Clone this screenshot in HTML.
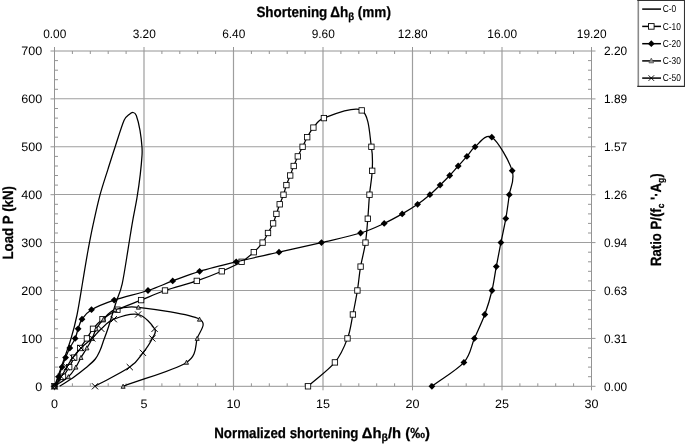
<!DOCTYPE html>
<html><head><meta charset="utf-8">
<style>html,body{margin:0;padding:0;background:#fff}body{width:685px;height:445px;overflow:hidden}svg{display:block}text{font-family:"Liberation Sans",sans-serif;fill:#000;text-rendering:geometricPrecision}</style></head><body>
<svg width="685" height="445" viewBox="0 0 685 445">
<rect width="685" height="445" fill="#fff"/>
<path d="M54.5 338.43H591.5M54.5 290.48H591.5M54.5 242.53H591.5M54.5 194.58H591.5M54.5 146.83H591.5M54.5 98.68H591.5" stroke="#9e9e9e" stroke-width="1.05" fill="none"/>
<path d="M144.0 51.0V386.3M233.5 51.0V386.3M323.0 51.0V386.3M412.5 51.0V386.3M502.0 51.0V386.3" stroke="#9e9e9e" stroke-width="1.2" fill="none"/>
<path d="M54.5 51.0H591.5V386.3H54.5ZM50.5 386.3H54.5M591.5 386.3H595.5M50.5 338.4H54.5M591.5 338.4H595.5M50.5 290.5H54.5M591.5 290.5H595.5M50.5 242.6H54.5M591.5 242.6H595.5M50.5 194.7H54.5M591.5 194.7H595.5M50.5 146.8H54.5M591.5 146.8H595.5M50.5 98.9H54.5M591.5 98.9H595.5M50.5 51.0H54.5M591.5 51.0H595.5M54.5 376.7H58.0M588.0 376.7H591.5M54.5 367.1H58.0M588.0 367.1H591.5M54.5 357.6H58.0M588.0 357.6H591.5M54.5 348.0H58.0M588.0 348.0H591.5M54.5 328.8H58.0M588.0 328.8H591.5M54.5 319.2H58.0M588.0 319.2H591.5M54.5 309.7H58.0M588.0 309.7H591.5M54.5 300.1H58.0M588.0 300.1H591.5M54.5 280.9H58.0M588.0 280.9H591.5M54.5 271.3H58.0M588.0 271.3H591.5M54.5 261.8H58.0M588.0 261.8H591.5M54.5 252.2H58.0M588.0 252.2H591.5M54.5 233.0H58.0M588.0 233.0H591.5M54.5 223.4H58.0M588.0 223.4H591.5M54.5 213.9H58.0M588.0 213.9H591.5M54.5 204.3H58.0M588.0 204.3H591.5M54.5 185.1H58.0M588.0 185.1H591.5M54.5 175.5H58.0M588.0 175.5H591.5M54.5 166.0H58.0M588.0 166.0H591.5M54.5 156.4H58.0M588.0 156.4H591.5M54.5 137.2H58.0M588.0 137.2H591.5M54.5 127.6H58.0M588.0 127.6H591.5M54.5 118.1H58.0M588.0 118.1H591.5M54.5 108.5H58.0M588.0 108.5H591.5M54.5 89.3H58.0M588.0 89.3H591.5M54.5 79.7H58.0M588.0 79.7H591.5M54.5 70.2H58.0M588.0 70.2H591.5M54.5 60.6H58.0M588.0 60.6H591.5M54.5 47.0V51.0M54.5 386.3V390.3M72.4 51.0V54.0M72.4 383.3V386.3M90.3 51.0V54.0M90.3 383.3V386.3M108.2 51.0V54.0M108.2 383.3V386.3M126.1 51.0V54.0M126.1 383.3V386.3M144.0 47.0V51.0M144.0 386.3V390.3M161.9 51.0V54.0M161.9 383.3V386.3M179.8 51.0V54.0M179.8 383.3V386.3M197.7 51.0V54.0M197.7 383.3V386.3M215.6 51.0V54.0M215.6 383.3V386.3M233.5 47.0V51.0M233.5 386.3V390.3M251.4 51.0V54.0M251.4 383.3V386.3M269.3 51.0V54.0M269.3 383.3V386.3M287.2 51.0V54.0M287.2 383.3V386.3M305.1 51.0V54.0M305.1 383.3V386.3M323.0 47.0V51.0M323.0 386.3V390.3M340.9 51.0V54.0M340.9 383.3V386.3M358.8 51.0V54.0M358.8 383.3V386.3M376.7 51.0V54.0M376.7 383.3V386.3M394.6 51.0V54.0M394.6 383.3V386.3M412.5 47.0V51.0M412.5 386.3V390.3M430.4 51.0V54.0M430.4 383.3V386.3M448.3 51.0V54.0M448.3 383.3V386.3M466.2 51.0V54.0M466.2 383.3V386.3M484.1 51.0V54.0M484.1 383.3V386.3M502.0 47.0V51.0M502.0 386.3V390.3M519.9 51.0V54.0M519.9 383.3V386.3M537.8 51.0V54.0M537.8 383.3V386.3M555.7 51.0V54.0M555.7 383.3V386.3M573.6 51.0V54.0M573.6 383.3V386.3M591.5 47.0V51.0M591.5 386.3V390.3" stroke="#949494" stroke-width="1" fill="none"/>
<path d="M54.5 386.3C57.0 379.2 59.3 372.9 62.0 365.0C64.7 357.1 68.4 347.3 70.9 339.0C73.4 330.7 75.1 324.3 77.0 315.0C78.9 305.7 80.7 293.8 82.5 283.0C84.3 272.2 86.3 259.7 88.1 250.0C89.9 240.3 91.1 233.8 93.1 224.7C95.1 215.6 97.4 204.7 99.9 195.4C102.4 186.1 105.5 177.1 108.0 169.1C110.5 161.1 112.3 155.3 115.0 147.2C117.7 139.0 121.7 125.7 124.1 120.2C125.6 116.7 127.7 115.8 129.2 114.5C130.7 113.2 132.0 112.3 133.2 112.5C134.4 112.7 135.5 113.5 136.3 115.5C137.4 118.5 139.1 125.0 140.0 130.3C140.9 135.6 141.7 143.0 142.0 147.2C142.3 151.4 142.3 151.4 142.0 155.6C141.7 160.1 141.1 167.1 140.3 174.1C139.5 181.1 138.3 189.8 137.0 197.7C135.7 205.6 134.1 212.9 132.6 221.3C131.1 229.7 129.9 237.9 128.2 248.3C126.5 258.7 124.1 275.1 122.2 283.8C120.3 292.5 118.1 295.9 116.6 300.7C115.0 305.5 114.4 307.7 112.9 312.5C111.4 317.3 109.3 324.6 107.7 329.3C106.1 334.1 104.7 337.6 103.4 341.0C102.2 344.4 101.6 347.0 100.2 350.0C98.8 353.0 97.7 356.0 95.3 359.0C92.9 362.0 89.1 365.0 85.6 368.0C82.0 371.0 78.3 373.9 74.0 377.0C69.7 380.1 64.4 383.2 59.6 386.3" stroke="#000" stroke-width="1.25" fill="none" stroke-linejoin="round"/>
<path d="M54.5 386.3C57.3 383.1 60.5 379.9 63.0 376.7C65.5 373.5 67.3 370.3 69.2 367.1C71.1 363.9 72.4 360.8 74.2 357.6C76.0 354.4 78.1 351.2 80.2 348.0C82.3 344.8 84.8 341.6 86.9 338.4C89.0 335.2 90.4 332.0 93.0 328.8C95.6 325.6 98.4 322.4 102.5 319.2C106.6 316.0 111.0 312.9 117.4 309.7C123.8 306.5 133.2 303.3 141.1 300.1C149.0 296.9 155.7 293.7 165.0 290.5C174.3 287.3 187.3 284.1 196.8 280.9C206.3 277.7 214.3 274.5 221.8 271.3C229.3 268.1 236.3 265.0 241.6 261.8C246.9 258.6 250.3 255.4 253.8 252.2C257.3 249.0 260.2 245.8 262.6 242.6C265.0 239.4 266.2 236.2 268.0 233.0C269.8 229.8 271.7 226.6 273.1 223.4C274.5 220.2 275.3 217.1 276.4 213.9C277.5 210.7 278.5 207.5 279.7 204.3C280.9 201.1 282.4 197.9 283.5 194.7C284.6 191.5 285.3 188.3 286.4 185.1C287.5 181.9 289.0 178.7 290.2 175.5C291.4 172.3 292.4 169.2 293.7 166.0C295.0 162.8 296.3 159.6 297.8 156.4C299.3 153.2 301.0 150.0 302.6 146.8C304.2 143.6 305.4 140.4 307.2 137.2C309.0 134.0 310.6 130.8 313.4 127.6C316.2 124.4 317.2 120.4 323.9 118.1C331.9 115.2 353.8 105.6 361.7 110.4C369.6 115.2 369.6 136.7 371.4 146.8C373.1 156.9 372.5 162.8 372.2 170.8C371.9 178.7 370.2 186.7 369.5 194.7C368.8 202.7 368.5 210.7 367.8 218.7C367.1 226.6 366.7 234.6 365.5 242.6C364.3 250.6 362.0 258.6 360.6 266.6C359.2 274.5 358.7 282.5 357.4 290.5C356.1 298.5 354.5 306.5 352.9 314.5C351.2 322.4 350.5 330.4 347.5 338.4C344.5 346.4 341.5 354.4 334.9 362.4C328.3 370.3 317.0 378.3 308.0 386.3" stroke="#000" stroke-width="1.25" fill="none" stroke-linejoin="round"/>
<rect x="51.8" y="383.6" width="5.4" height="5.4" fill="#fff" stroke="#000" stroke-width="0.85"/>
<rect x="60.3" y="374.0" width="5.4" height="5.4" fill="#fff" stroke="#000" stroke-width="0.85"/>
<rect x="66.5" y="364.4" width="5.4" height="5.4" fill="#fff" stroke="#000" stroke-width="0.85"/>
<rect x="71.5" y="354.9" width="5.4" height="5.4" fill="#fff" stroke="#000" stroke-width="0.85"/>
<rect x="77.5" y="345.3" width="5.4" height="5.4" fill="#fff" stroke="#000" stroke-width="0.85"/>
<rect x="84.2" y="335.7" width="5.4" height="5.4" fill="#fff" stroke="#000" stroke-width="0.85"/>
<rect x="90.3" y="326.1" width="5.4" height="5.4" fill="#fff" stroke="#000" stroke-width="0.85"/>
<rect x="99.8" y="316.5" width="5.4" height="5.4" fill="#fff" stroke="#000" stroke-width="0.85"/>
<rect x="114.7" y="307.0" width="5.4" height="5.4" fill="#fff" stroke="#000" stroke-width="0.85"/>
<rect x="138.4" y="297.4" width="5.4" height="5.4" fill="#fff" stroke="#000" stroke-width="0.85"/>
<rect x="162.3" y="287.8" width="5.4" height="5.4" fill="#fff" stroke="#000" stroke-width="0.85"/>
<rect x="194.1" y="278.2" width="5.4" height="5.4" fill="#fff" stroke="#000" stroke-width="0.85"/>
<rect x="219.1" y="268.6" width="5.4" height="5.4" fill="#fff" stroke="#000" stroke-width="0.85"/>
<rect x="238.9" y="259.1" width="5.4" height="5.4" fill="#fff" stroke="#000" stroke-width="0.85"/>
<rect x="251.1" y="249.5" width="5.4" height="5.4" fill="#fff" stroke="#000" stroke-width="0.85"/>
<rect x="259.9" y="239.9" width="5.4" height="5.4" fill="#fff" stroke="#000" stroke-width="0.85"/>
<rect x="265.3" y="230.3" width="5.4" height="5.4" fill="#fff" stroke="#000" stroke-width="0.85"/>
<rect x="270.4" y="220.7" width="5.4" height="5.4" fill="#fff" stroke="#000" stroke-width="0.85"/>
<rect x="273.7" y="211.2" width="5.4" height="5.4" fill="#fff" stroke="#000" stroke-width="0.85"/>
<rect x="277.0" y="201.6" width="5.4" height="5.4" fill="#fff" stroke="#000" stroke-width="0.85"/>
<rect x="280.8" y="192.0" width="5.4" height="5.4" fill="#fff" stroke="#000" stroke-width="0.85"/>
<rect x="283.7" y="182.4" width="5.4" height="5.4" fill="#fff" stroke="#000" stroke-width="0.85"/>
<rect x="287.5" y="172.8" width="5.4" height="5.4" fill="#fff" stroke="#000" stroke-width="0.85"/>
<rect x="291.0" y="163.3" width="5.4" height="5.4" fill="#fff" stroke="#000" stroke-width="0.85"/>
<rect x="295.1" y="153.7" width="5.4" height="5.4" fill="#fff" stroke="#000" stroke-width="0.85"/>
<rect x="299.9" y="144.1" width="5.4" height="5.4" fill="#fff" stroke="#000" stroke-width="0.85"/>
<rect x="304.5" y="134.5" width="5.4" height="5.4" fill="#fff" stroke="#000" stroke-width="0.85"/>
<rect x="310.7" y="124.9" width="5.4" height="5.4" fill="#fff" stroke="#000" stroke-width="0.85"/>
<rect x="321.2" y="115.4" width="5.4" height="5.4" fill="#fff" stroke="#000" stroke-width="0.85"/>
<rect x="359.0" y="107.7" width="5.4" height="5.4" fill="#fff" stroke="#000" stroke-width="0.85"/>
<rect x="368.7" y="144.1" width="5.4" height="5.4" fill="#fff" stroke="#000" stroke-width="0.85"/>
<rect x="369.5" y="168.1" width="5.4" height="5.4" fill="#fff" stroke="#000" stroke-width="0.85"/>
<rect x="366.8" y="192.0" width="5.4" height="5.4" fill="#fff" stroke="#000" stroke-width="0.85"/>
<rect x="365.1" y="216.0" width="5.4" height="5.4" fill="#fff" stroke="#000" stroke-width="0.85"/>
<rect x="362.8" y="239.9" width="5.4" height="5.4" fill="#fff" stroke="#000" stroke-width="0.85"/>
<rect x="357.9" y="263.9" width="5.4" height="5.4" fill="#fff" stroke="#000" stroke-width="0.85"/>
<rect x="354.7" y="287.8" width="5.4" height="5.4" fill="#fff" stroke="#000" stroke-width="0.85"/>
<rect x="350.2" y="311.8" width="5.4" height="5.4" fill="#fff" stroke="#000" stroke-width="0.85"/>
<rect x="344.8" y="335.7" width="5.4" height="5.4" fill="#fff" stroke="#000" stroke-width="0.85"/>
<rect x="332.2" y="359.7" width="5.4" height="5.4" fill="#fff" stroke="#000" stroke-width="0.85"/>
<rect x="305.3" y="383.6" width="5.4" height="5.4" fill="#fff" stroke="#000" stroke-width="0.85"/>
<path d="M54.5 386.3C55.9 383.1 57.4 379.9 58.6 376.7C59.9 373.5 60.8 370.3 62.0 367.1C63.2 363.9 64.3 360.8 65.6 357.6C66.9 354.4 68.2 351.2 69.8 348.0C71.4 344.8 73.8 341.6 75.2 338.4C76.6 335.2 77.0 332.0 78.1 328.8C79.2 325.6 79.8 322.4 82.0 319.2C84.2 316.0 86.1 312.9 91.5 309.7C96.9 306.5 104.8 303.3 114.2 300.1C123.6 296.9 138.2 293.7 148.0 290.5C157.8 287.3 164.1 284.1 172.7 280.9C181.3 277.7 189.0 274.5 199.6 271.3C210.2 268.1 223.0 265.0 236.2 261.8C249.4 258.6 264.8 255.4 279.0 252.2C293.2 249.0 307.9 245.8 321.5 242.6C335.1 239.4 350.2 236.2 360.6 233.0C371.1 229.8 377.3 226.6 384.2 223.4C391.1 220.2 396.6 217.1 402.2 213.9C407.8 210.7 413.0 207.5 417.6 204.3C422.2 201.1 426.1 197.9 429.9 194.7C433.6 191.5 436.8 188.3 440.1 185.1C443.4 181.9 446.7 178.7 449.7 175.5C452.7 172.3 455.3 169.2 458.2 166.0C461.1 162.8 464.1 159.6 466.9 156.4C469.7 153.2 471.0 150.0 475.1 146.8C479.2 143.6 485.6 133.2 491.8 137.2C498.0 141.2 509.3 161.2 512.2 170.8C515.1 180.3 510.4 186.7 509.3 194.7C508.2 202.7 507.2 210.7 505.8 218.7C504.4 226.6 502.5 234.6 500.9 242.6C499.3 250.6 497.8 258.6 496.3 266.6C494.8 274.5 493.9 282.5 492.0 290.5C490.1 298.5 487.7 306.5 484.8 314.5C481.9 322.4 477.9 330.4 474.4 338.4C470.9 346.4 471.0 354.4 463.9 362.4C456.8 370.3 442.6 378.3 431.9 386.3" stroke="#000" stroke-width="1.25" fill="none" stroke-linejoin="round"/>
<path d="M54.5 382.9l3.4 3.4l-3.4 3.4l-3.4 -3.4z" fill="#000"/>
<path d="M58.6 373.3l3.4 3.4l-3.4 3.4l-3.4 -3.4z" fill="#000"/>
<path d="M62.0 363.7l3.4 3.4l-3.4 3.4l-3.4 -3.4z" fill="#000"/>
<path d="M65.6 354.2l3.4 3.4l-3.4 3.4l-3.4 -3.4z" fill="#000"/>
<path d="M69.8 344.6l3.4 3.4l-3.4 3.4l-3.4 -3.4z" fill="#000"/>
<path d="M75.2 335.0l3.4 3.4l-3.4 3.4l-3.4 -3.4z" fill="#000"/>
<path d="M78.1 325.4l3.4 3.4l-3.4 3.4l-3.4 -3.4z" fill="#000"/>
<path d="M82.0 315.8l3.4 3.4l-3.4 3.4l-3.4 -3.4z" fill="#000"/>
<path d="M91.5 306.3l3.4 3.4l-3.4 3.4l-3.4 -3.4z" fill="#000"/>
<path d="M114.2 296.7l3.4 3.4l-3.4 3.4l-3.4 -3.4z" fill="#000"/>
<path d="M148.0 287.1l3.4 3.4l-3.4 3.4l-3.4 -3.4z" fill="#000"/>
<path d="M172.7 277.5l3.4 3.4l-3.4 3.4l-3.4 -3.4z" fill="#000"/>
<path d="M199.6 267.9l3.4 3.4l-3.4 3.4l-3.4 -3.4z" fill="#000"/>
<path d="M236.2 258.4l3.4 3.4l-3.4 3.4l-3.4 -3.4z" fill="#000"/>
<path d="M279.0 248.8l3.4 3.4l-3.4 3.4l-3.4 -3.4z" fill="#000"/>
<path d="M321.5 239.2l3.4 3.4l-3.4 3.4l-3.4 -3.4z" fill="#000"/>
<path d="M360.6 229.6l3.4 3.4l-3.4 3.4l-3.4 -3.4z" fill="#000"/>
<path d="M384.2 220.0l3.4 3.4l-3.4 3.4l-3.4 -3.4z" fill="#000"/>
<path d="M402.2 210.5l3.4 3.4l-3.4 3.4l-3.4 -3.4z" fill="#000"/>
<path d="M417.6 200.9l3.4 3.4l-3.4 3.4l-3.4 -3.4z" fill="#000"/>
<path d="M429.9 191.3l3.4 3.4l-3.4 3.4l-3.4 -3.4z" fill="#000"/>
<path d="M440.1 181.7l3.4 3.4l-3.4 3.4l-3.4 -3.4z" fill="#000"/>
<path d="M449.7 172.1l3.4 3.4l-3.4 3.4l-3.4 -3.4z" fill="#000"/>
<path d="M458.2 162.6l3.4 3.4l-3.4 3.4l-3.4 -3.4z" fill="#000"/>
<path d="M466.9 153.0l3.4 3.4l-3.4 3.4l-3.4 -3.4z" fill="#000"/>
<path d="M475.1 143.4l3.4 3.4l-3.4 3.4l-3.4 -3.4z" fill="#000"/>
<path d="M491.8 133.8l3.4 3.4l-3.4 3.4l-3.4 -3.4z" fill="#000"/>
<path d="M512.2 167.3l3.4 3.4l-3.4 3.4l-3.4 -3.4z" fill="#000"/>
<path d="M509.3 191.3l3.4 3.4l-3.4 3.4l-3.4 -3.4z" fill="#000"/>
<path d="M505.8 215.2l3.4 3.4l-3.4 3.4l-3.4 -3.4z" fill="#000"/>
<path d="M500.9 239.2l3.4 3.4l-3.4 3.4l-3.4 -3.4z" fill="#000"/>
<path d="M496.3 263.2l3.4 3.4l-3.4 3.4l-3.4 -3.4z" fill="#000"/>
<path d="M492.0 287.1l3.4 3.4l-3.4 3.4l-3.4 -3.4z" fill="#000"/>
<path d="M484.8 311.1l3.4 3.4l-3.4 3.4l-3.4 -3.4z" fill="#000"/>
<path d="M474.4 335.0l3.4 3.4l-3.4 3.4l-3.4 -3.4z" fill="#000"/>
<path d="M463.9 359.0l3.4 3.4l-3.4 3.4l-3.4 -3.4z" fill="#000"/>
<path d="M431.9 382.9l3.4 3.4l-3.4 3.4l-3.4 -3.4z" fill="#000"/>
<path d="M54.5 386.3C59.1 383.1 64.8 379.9 68.4 376.7C72.0 373.5 73.8 370.3 75.9 367.1C78.0 363.9 79.2 360.8 81.0 357.6C82.8 354.4 85.0 351.2 86.9 348.0C88.8 344.8 90.7 341.6 92.2 338.4C93.8 335.2 94.3 332.0 96.2 328.8C98.1 325.6 100.4 322.4 103.5 319.2C106.6 316.0 109.2 311.7 115.0 309.7C120.8 307.7 126.7 305.9 138.4 307.3C152.5 308.9 189.7 314.1 199.5 319.2C208.0 323.8 199.4 331.2 197.2 338.4C195.0 345.6 197.5 355.2 186.5 362.4C174.2 370.3 144.2 378.3 123.1 386.3" stroke="#000" stroke-width="1.25" fill="none" stroke-linejoin="round"/>
<path d="M54.5 384.2l2.05 4.1h-4.1z" fill="#b0b0b0" stroke="#000" stroke-width="0.8"/>
<path d="M68.4 374.6l2.05 4.1h-4.1z" fill="#b0b0b0" stroke="#000" stroke-width="0.8"/>
<path d="M75.9 365.0l2.05 4.1h-4.1z" fill="#b0b0b0" stroke="#000" stroke-width="0.8"/>
<path d="M81.0 355.4l2.05 4.1h-4.1z" fill="#b0b0b0" stroke="#000" stroke-width="0.8"/>
<path d="M86.9 345.8l2.05 4.1h-4.1z" fill="#b0b0b0" stroke="#000" stroke-width="0.8"/>
<path d="M92.2 336.3l2.05 4.1h-4.1z" fill="#b0b0b0" stroke="#000" stroke-width="0.8"/>
<path d="M96.2 326.7l2.05 4.1h-4.1z" fill="#b0b0b0" stroke="#000" stroke-width="0.8"/>
<path d="M103.5 317.1l2.05 4.1h-4.1z" fill="#b0b0b0" stroke="#000" stroke-width="0.8"/>
<path d="M115.0 307.5l2.05 4.1h-4.1z" fill="#b0b0b0" stroke="#000" stroke-width="0.8"/>
<path d="M138.4 305.1l2.05 4.1h-4.1z" fill="#b0b0b0" stroke="#000" stroke-width="0.8"/>
<path d="M199.5 317.1l2.05 4.1h-4.1z" fill="#b0b0b0" stroke="#000" stroke-width="0.8"/>
<path d="M197.2 336.3l2.05 4.1h-4.1z" fill="#b0b0b0" stroke="#000" stroke-width="0.8"/>
<path d="M186.5 360.2l2.05 4.1h-4.1z" fill="#b0b0b0" stroke="#000" stroke-width="0.8"/>
<path d="M123.1 384.2l2.05 4.1h-4.1z" fill="#b0b0b0" stroke="#000" stroke-width="0.8"/>
<path d="M54.5 386.3C56.7 383.1 59.2 379.9 61.2 376.7C63.2 373.5 64.9 370.3 66.8 367.1C68.7 363.9 70.4 360.8 72.8 357.6C75.2 354.4 77.8 351.2 81.0 348.0C84.2 344.8 88.8 341.6 92.2 338.4C95.6 335.2 97.7 332.0 101.3 328.8C104.9 325.6 107.7 321.6 113.8 319.2C119.9 316.8 131.3 312.9 138.1 314.5C144.9 316.0 152.2 324.8 154.6 328.8C157.0 332.8 154.2 334.4 152.3 338.4C150.4 342.4 146.7 348.0 142.9 352.8C139.2 357.6 137.8 361.6 129.8 367.1C121.8 372.7 106.6 379.9 95.0 386.3" stroke="#000" stroke-width="1.25" fill="none" stroke-linejoin="round"/>
<path d="M51.4 383.2l6.2 6.2m0 -6.2l-6.2 6.2" stroke="#000" stroke-width="1" fill="none"/>
<path d="M58.1 373.6l6.2 6.2m0 -6.2l-6.2 6.2" stroke="#000" stroke-width="1" fill="none"/>
<path d="M63.7 364.0l6.2 6.2m0 -6.2l-6.2 6.2" stroke="#000" stroke-width="1" fill="none"/>
<path d="M69.7 354.5l6.2 6.2m0 -6.2l-6.2 6.2" stroke="#000" stroke-width="1" fill="none"/>
<path d="M77.9 344.9l6.2 6.2m0 -6.2l-6.2 6.2" stroke="#000" stroke-width="1" fill="none"/>
<path d="M89.1 335.3l6.2 6.2m0 -6.2l-6.2 6.2" stroke="#000" stroke-width="1" fill="none"/>
<path d="M98.2 325.7l6.2 6.2m0 -6.2l-6.2 6.2" stroke="#000" stroke-width="1" fill="none"/>
<path d="M110.7 316.1l6.2 6.2m0 -6.2l-6.2 6.2" stroke="#000" stroke-width="1" fill="none"/>
<path d="M135.0 311.4l6.2 6.2m0 -6.2l-6.2 6.2" stroke="#000" stroke-width="1" fill="none"/>
<path d="M151.5 325.7l6.2 6.2m0 -6.2l-6.2 6.2" stroke="#000" stroke-width="1" fill="none"/>
<path d="M149.2 335.3l6.2 6.2m0 -6.2l-6.2 6.2" stroke="#000" stroke-width="1" fill="none"/>
<path d="M139.8 349.7l6.2 6.2m0 -6.2l-6.2 6.2" stroke="#000" stroke-width="1" fill="none"/>
<path d="M126.7 364.0l6.2 6.2m0 -6.2l-6.2 6.2" stroke="#000" stroke-width="1" fill="none"/>
<path d="M91.9 383.2l6.2 6.2m0 -6.2l-6.2 6.2" stroke="#000" stroke-width="1" fill="none"/>
<text transform="translate(42.2 390.6) scale(1.03 1)" font-size="12.2" text-anchor="end">0</text>
<text transform="translate(42.2 342.7) scale(1.03 1)" font-size="12.2" text-anchor="end">100</text>
<text transform="translate(42.2 294.8) scale(1.03 1)" font-size="12.2" text-anchor="end">200</text>
<text transform="translate(42.2 246.9) scale(1.03 1)" font-size="12.2" text-anchor="end">300</text>
<text transform="translate(42.2 199.0) scale(1.03 1)" font-size="12.2" text-anchor="end">400</text>
<text transform="translate(42.2 151.1) scale(1.03 1)" font-size="12.2" text-anchor="end">500</text>
<text transform="translate(42.2 103.2) scale(1.03 1)" font-size="12.2" text-anchor="end">600</text>
<text transform="translate(42.2 55.3) scale(1.03 1)" font-size="12.2" text-anchor="end">700</text>
<text transform="translate(604.0 390.6) scale(0.975 1)" font-size="12.2" text-anchor="start">0.00</text>
<text transform="translate(604.0 342.7) scale(0.975 1)" font-size="12.2" text-anchor="start">0.31</text>
<text transform="translate(604.0 294.8) scale(0.975 1)" font-size="12.2" text-anchor="start">0.63</text>
<text transform="translate(604.0 246.9) scale(0.975 1)" font-size="12.2" text-anchor="start">0.94</text>
<text transform="translate(604.0 199.0) scale(0.975 1)" font-size="12.2" text-anchor="start">1.26</text>
<text transform="translate(604.0 151.1) scale(0.975 1)" font-size="12.2" text-anchor="start">1.57</text>
<text transform="translate(604.0 103.2) scale(0.975 1)" font-size="12.2" text-anchor="start">1.89</text>
<text transform="translate(604.0 55.3) scale(0.975 1)" font-size="12.2" text-anchor="start">2.20</text>
<text transform="translate(54.5 408.0) scale(1.03 1)" font-size="12.2" text-anchor="middle">0</text>
<text transform="translate(144.0 408.0) scale(1.03 1)" font-size="12.2" text-anchor="middle">5</text>
<text transform="translate(233.5 408.0) scale(1.03 1)" font-size="12.2" text-anchor="middle">10</text>
<text transform="translate(323.0 408.0) scale(1.03 1)" font-size="12.2" text-anchor="middle">15</text>
<text transform="translate(412.5 408.0) scale(1.03 1)" font-size="12.2" text-anchor="middle">20</text>
<text transform="translate(502.0 408.0) scale(1.03 1)" font-size="12.2" text-anchor="middle">25</text>
<text transform="translate(591.5 408.0) scale(1.03 1)" font-size="12.2" text-anchor="middle">30</text>
<text transform="translate(54.7 38.0) scale(0.975 1)" font-size="12.2" text-anchor="middle">0.00</text>
<text transform="translate(144.2 38.0) scale(0.975 1)" font-size="12.2" text-anchor="middle">3.20</text>
<text transform="translate(233.7 38.0) scale(0.975 1)" font-size="12.2" text-anchor="middle">6.40</text>
<text transform="translate(323.2 38.0) scale(0.975 1)" font-size="12.2" text-anchor="middle">9.60</text>
<text transform="translate(412.7 38.0) scale(0.975 1)" font-size="12.2" text-anchor="middle">12.80</text>
<text transform="translate(502.2 38.0) scale(0.975 1)" font-size="12.2" text-anchor="middle">16.00</text>
<text transform="translate(591.7 38.0) scale(0.975 1)" font-size="12.2" text-anchor="middle">19.20</text>
<text transform="translate(256.4 16.6) scale(0.908 1)" font-size="14.8" font-weight="bold" stroke="#000" stroke-width="0.25">Shortening</text>
<text transform="translate(390.9 16.6) scale(0.915 1)" font-size="14.8" font-weight="bold" stroke="#000" stroke-width="0.25" text-anchor="end">Δh<tspan font-size="10.5" dy="3.4">β</tspan><tspan dy="-3.4"> (mm)</tspan></text>
<text transform="translate(214.2 437.9) scale(0.90 1)" font-size="14.8" font-weight="bold" stroke="#000" stroke-width="0.25">Normalized shortening</text>
<text transform="translate(429.9 437.9) scale(1.0 1)" font-size="14.8" font-weight="bold" stroke="#000" stroke-width="0.25" text-anchor="end">Δh<tspan font-size="10.5" dy="3.4">β</tspan><tspan dy="-3.4">/h (‰)</tspan></text>
<text transform="translate(13.4 222.8) rotate(-90) scale(0.897 1)" font-size="14.8" font-weight="bold" stroke="#000" stroke-width="0.25" text-anchor="middle">Load P (kN)</text>
<text transform="translate(660.6 219.7) rotate(-90) scale(0.888 1)" font-size="14.8" font-weight="bold" stroke="#000" stroke-width="0.25" text-anchor="middle">Ratio P/(f<tspan font-size="9.5" dy="3.2">c</tspan><tspan dy="-3.2"> '·A</tspan><tspan font-size="9.5" dy="3.2">g</tspan><tspan dy="-3.2">)</tspan></text>
<rect x="638" y="0" width="47" height="86.4" fill="#fff"/>
<path d="M638.3 0V87" stroke="#8a8a8a" stroke-width="1.6"/>
<path d="M637.3 86.45H685" stroke="#2a2a2a" stroke-width="1.2"/><path d="M637.3 0.5H685" stroke="#333" stroke-width="1"/>
<path d="M684.5 0V87" stroke="#333" stroke-width="1.1"/>
<path d="M642.2 9.1H661" stroke="#000" stroke-width="1.5"/>
<text transform="translate(662.7 12.2) scale(0.84 1)" font-size="10">C-0</text>
<path d="M642.2 26.4H661" stroke="#000" stroke-width="1.5"/>
<text transform="translate(662.7 29.5) scale(0.84 1)" font-size="10">C-10</text>
<path d="M642.2 43.7H661" stroke="#000" stroke-width="1.5"/>
<text transform="translate(662.7 46.8) scale(0.84 1)" font-size="10">C-20</text>
<path d="M642.2 60.9H661" stroke="#000" stroke-width="1.5"/>
<text transform="translate(662.7 64.0) scale(0.84 1)" font-size="10">C-30</text>
<path d="M642.2 78.1H661" stroke="#000" stroke-width="1.5"/>
<text transform="translate(662.7 81.2) scale(0.84 1)" font-size="10">C-50</text>
<rect x="648.5" y="23.6" width="5.6" height="5.6" fill="#fff" stroke="#000" stroke-width="0.9"/>
<path d="M651.3 40.3l3.4 3.4l-3.4 3.4l-3.4 -3.4z" fill="#000"/>
<path d="M651.3 58.0l2.4 4.9h-4.8z" fill="#909090" stroke="#555" stroke-width="0.7"/>
<path d="M648.5 75.3l5.6 5.6m0 -5.6l-5.6 5.6" stroke="#000" stroke-width="0.9" fill="none"/>
</svg></body></html>
